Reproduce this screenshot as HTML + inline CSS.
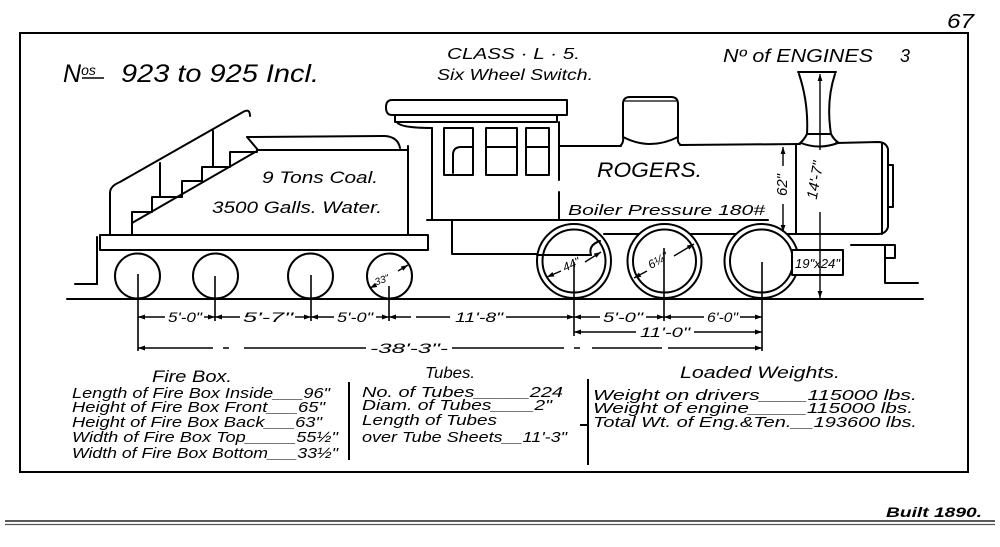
<!DOCTYPE html>
<html>
<head>
<meta charset="utf-8">
<style>
  html,body{margin:0;padding:0;background:#fff;}
  svg{display:block;}
  text{font-family:"Liberation Sans",sans-serif;font-style:italic;fill:#000;}
</style>
</head>
<body>
<svg width="1000" height="547" viewBox="0 0 1000 547" xmlns="http://www.w3.org/2000/svg">
<defs>
  <marker id="ar" viewBox="0 0 10 10" refX="10" refY="5" markerWidth="7" markerHeight="7" markerUnits="userSpaceOnUse" orient="auto-start-reverse">
    <path d="M0,1.5 L10,5 L0,8.5 z" fill="#000"/>
  </marker>
</defs>
<rect width="1000" height="547" fill="#fff"/>

<!-- page number -->
<text x="947" y="28" font-size="20" textLength="27" lengthAdjust="spacingAndGlyphs">67</text>

<!-- frame -->
<rect x="20" y="33" width="948" height="439" fill="none" stroke="#000" stroke-width="2"/>

<!-- headers -->
<text x="63" y="82" font-size="25">N<tspan font-size="14" dy="-7">os</tspan></text>
<line x1="82" y1="78" x2="104" y2="78" stroke="#000" stroke-width="1.5"/>
<text x="121" y="82" font-size="25" textLength="198" lengthAdjust="spacingAndGlyphs">923 to 925 Incl.</text>
<text x="447" y="59" font-size="16" textLength="133" lengthAdjust="spacingAndGlyphs">CLASS · L · 5.</text>
<text x="437" y="80" font-size="16" textLength="156" lengthAdjust="spacingAndGlyphs">Six Wheel Switch.</text>
<text x="723" y="62" font-size="18" textLength="150" lengthAdjust="spacingAndGlyphs">Nº of ENGINES</text>
<text x="900" y="62" font-size="18">3</text>

<g fill="none" stroke="#000" stroke-width="2" stroke-linejoin="round" stroke-linecap="round">
  <!-- rail -->
  <line x1="67" y1="299" x2="923" y2="299"/>

  <!-- ===== TENDER ===== -->
  <!-- handrail -->
  <path d="M110,235 L110,193 Q110,186 120,182 L243,112 Q250,108 250,116"/>
  <line x1="160" y1="163" x2="160" y2="197"/>
  <line x1="213" y1="131" x2="213" y2="167"/>
  <!-- stairs -->
  <path d="M132,235 L132,212 L152,212 L152,197 L182,197 L182,181 L202,181 L202,167 L230,167 L230,152 L257,152"/>
  <line x1="132" y1="223" x2="257" y2="151"/>
  <!-- tank -->
  <path d="M257,150 L408,150 L408,235"/>
  <line x1="408" y1="150" x2="408" y2="146"/>
  <!-- coal top -->
  <path d="M247,137 L385,136 Q398,137 400,148"/>
  <line x1="247" y1="137" x2="258" y2="150"/>
  <!-- deck -->
  <rect x="100" y="235" width="328" height="15" fill="#fff"/>
  <line x1="97" y1="237" x2="97" y2="284"/>
  <line x1="75" y1="284" x2="97" y2="284"/>

  <!-- ===== ENGINE ===== -->
  <!-- cab roof -->
  <path d="M392,100 L567,100 L567,115 L392,115 Q386,115 386,107.5 Q386,100 392,100 Z"/>
  <path d="M395,115 L395,122 L557,122 L557,115"/>
  <path d="M397,122 Q400,128 432,128"/>
  <line x1="432" y1="128" x2="432" y2="220"/>
  <line x1="559" y1="122" x2="559" y2="180"/>
  <line x1="559" y1="192" x2="559" y2="220"/>
  <!-- windows -->
  <rect x="444" y="128" width="29" height="47"/>
  <path d="M453,173 L453,155 Q453,147 461,147 L473,147"/>
  <rect x="486" y="128" width="31" height="47"/>
  <line x1="486" y1="147" x2="517" y2="147"/>
  <rect x="526" y="128" width="23" height="47"/>
  <line x1="526" y1="147" x2="549" y2="147"/>
  <!-- running board -->
  <line x1="427" y1="220" x2="768" y2="220"/>
  <!-- cab frame -->
  <path d="M452,220 L452,254 L540,254"/>
  <!-- boiler -->
  <line x1="559" y1="146" x2="621" y2="146"/>
  <line x1="680" y1="145" x2="800" y2="144"/>
  <path d="M836,143 L878,142 Q886,142 888,149 L888,227 Q886,234 878,234 L604,234"/>
  <line x1="882" y1="143" x2="882" y2="234"/>
  <rect x="888" y="165" width="5" height="42"/>
  <line x1="796" y1="144" x2="796" y2="234"/>
  <!-- dome -->
  <path d="M620,146 Q624,143 623,137 L623,104 Q623,97 630,97 L671,97 Q678,97 678,104 L678,137 Q677,143 681,145"/>
  <path d="M623,137 Q650,151 678,137"/>
  <line x1="625" y1="101" x2="676" y2="101" stroke-width="1.2"/>
  <!-- stack -->
  <line x1="798" y1="72" x2="836" y2="72"/>
  <path d="M799,74 C806,95 808,115 807,134 Q804,140 799,144"/>
  <path d="M835,74 C828,95 828,115 831,134 Q834,140 839,143"/>
  <line x1="807" y1="134" x2="831" y2="134"/>
  <path d="M801,143 Q819,150 838,143"/>
  <!-- pilot -->
  <line x1="851" y1="245" x2="885" y2="245"/>
  <rect x="885" y="245" width="10" height="13"/>
  <path d="M885,258 L885,283 L918,283"/>

  <!-- tender wheels -->
  <circle cx="137.5" cy="276" r="22.5" fill="#fff"/>
  <circle cx="215.5" cy="276" r="22.5" fill="#fff"/>
  <circle cx="310.5" cy="276" r="22.5" fill="#fff"/>
  <circle cx="389.5" cy="276" r="22.5" fill="#fff"/>

  <!-- drivers -->
  <circle cx="574" cy="261" r="37" fill="#fff"/>
  <circle cx="574" cy="261" r="31.5"/>
  <circle cx="664.5" cy="261" r="37" fill="#fff"/>
  <circle cx="664.5" cy="261" r="31.5"/>
  <circle cx="761.5" cy="261" r="37" fill="#fff"/>
  <circle cx="761.5" cy="261" r="31.5"/>
  <!-- driver 1 details -->
  <line x1="537" y1="255" x2="591" y2="255"/>
  <path d="M591,255 Q588,245 600,241"/>
  <!-- cylinder -->
  <rect x="792" y="250" width="51" height="25" fill="#fff"/>
</g>

<!-- extension lines -->
<g stroke="#000" stroke-width="1.6" fill="none">
  <line x1="138" y1="274" x2="138" y2="351"/>
  <line x1="215" y1="276" x2="215" y2="321"/>
  <line x1="311" y1="275" x2="311" y2="321"/>
  <line x1="389" y1="286" x2="389" y2="321"/>
  <line x1="574" y1="262" x2="574" y2="336"/>
  <line x1="664" y1="248" x2="664" y2="321"/>
  <line x1="762" y1="262" x2="762" y2="351"/>
</g>

<!-- dimension lines -->
<g stroke="#000" stroke-width="1.4" fill="none">
  <!-- row 1 -->
  <line x1="138" y1="317" x2="165" y2="317" marker-start="url(#ar)"/>
  <line x1="204" y1="317" x2="215" y2="317" marker-end="url(#ar)"/>
  <line x1="215" y1="317" x2="240" y2="317" marker-start="url(#ar)"/>
  <line x1="295" y1="317" x2="311" y2="317" marker-end="url(#ar)"/>
  <line x1="311" y1="317" x2="334" y2="317" marker-start="url(#ar)"/>
  <line x1="376" y1="317" x2="389" y2="317" marker-end="url(#ar)"/>
  <line x1="389" y1="317" x2="450" y2="317" marker-start="url(#ar)" stroke-dasharray="22,5,40,0"/>
  <line x1="506" y1="317" x2="574" y2="317" marker-end="url(#ar)"/>
  <line x1="574" y1="317" x2="600" y2="317" marker-start="url(#ar)"/>
  <line x1="646" y1="317" x2="664" y2="317" marker-end="url(#ar)"/>
  <line x1="664" y1="317" x2="704" y2="317" marker-start="url(#ar)"/>
  <line x1="740" y1="317" x2="762" y2="317" marker-end="url(#ar)"/>
  <!-- row 2 -->
  <line x1="574" y1="332" x2="636" y2="332" marker-start="url(#ar)"/>
  <line x1="694" y1="332" x2="762" y2="332" marker-end="url(#ar)"/>
  <!-- row 3 -->
  <line x1="138" y1="348" x2="366" y2="348" marker-start="url(#ar)" stroke-dasharray="75,10,6,15,130,0"/>
  <line x1="452" y1="348" x2="762" y2="348" marker-end="url(#ar)" stroke-dasharray="112,10,6,12,70,6,120,0"/>
  <!-- 62" -->
  <line x1="783" y1="166" x2="783" y2="147" marker-end="url(#ar)"/>
  <line x1="783" y1="204" x2="783" y2="232" marker-end="url(#ar)"/>
  <!-- 14'-7" -->
  <line x1="820" y1="150" x2="820" y2="74" marker-end="url(#ar)"/>
  <line x1="820" y1="212" x2="820" y2="298" marker-end="url(#ar)"/>
  <!-- wheel diameters -->
  <line x1="547" y1="277" x2="561" y2="271" marker-start="url(#ar)"/>
  <line x1="585" y1="262" x2="601" y2="252" marker-end="url(#ar)"/>
  <line x1="634" y1="278" x2="647" y2="271" marker-start="url(#ar)"/>
  <line x1="674" y1="256" x2="694" y2="244" marker-end="url(#ar)"/>
  <line x1="370" y1="288" x2="376" y2="285" marker-start="url(#ar)"/>
  <line x1="398" y1="271" x2="408" y2="265" marker-end="url(#ar)"/>
</g>

<!-- labels on drawing -->
<text x="262" y="183" font-size="17" textLength="116" lengthAdjust="spacingAndGlyphs">9 Tons Coal.</text>
<text x="212" y="213" font-size="17" textLength="170" lengthAdjust="spacingAndGlyphs">3500 Galls. Water.</text>
<text x="597" y="177" font-size="21" textLength="105" lengthAdjust="spacingAndGlyphs">ROGERS.</text>
<text x="568" y="215" font-size="15" textLength="197" lengthAdjust="spacingAndGlyphs">Boiler Pressure 180#</text>
<text transform="translate(787,185) rotate(-90)" font-size="15" text-anchor="middle">62"</text>
<text transform="translate(820,181) rotate(-80)" font-size="15" text-anchor="middle">14'-7"</text>
<text x="795" y="268" font-size="13" textLength="45" lengthAdjust="spacingAndGlyphs">19"x24"</text>
<text transform="translate(573,268) rotate(-25)" font-size="12" text-anchor="middle">44"</text>
<text transform="translate(660,264) rotate(-30)" font-size="12" text-anchor="middle">6¼"</text>
<text transform="translate(383,283) rotate(-20)" font-size="10" text-anchor="middle">33"</text>

<!-- dimension texts -->
<g font-size="14">
  <text x="168" y="322" textLength="34" lengthAdjust="spacingAndGlyphs">5'-0"</text>
  <text x="243" y="322" textLength="50" lengthAdjust="spacingAndGlyphs">5'-7"</text>
  <text x="337" y="322" textLength="36" lengthAdjust="spacingAndGlyphs">5'-0"</text>
  <text x="455" y="322" textLength="48" lengthAdjust="spacingAndGlyphs">11'-8"</text>
  <text x="603" y="322" textLength="40" lengthAdjust="spacingAndGlyphs">5'-0"</text>
  <text x="707" y="322" textLength="31" lengthAdjust="spacingAndGlyphs">6'-0"</text>
  <text x="640" y="337" textLength="50" lengthAdjust="spacingAndGlyphs">11'-0"</text>
  <text x="370" y="353" textLength="78" lengthAdjust="spacingAndGlyphs">-38'-3"-</text>
</g>

<!-- table -->
<g stroke="#000" stroke-width="2">
  <line x1="349" y1="382" x2="349" y2="460"/>
  <line x1="588" y1="379" x2="588" y2="465"/>
  <line x1="580" y1="425" x2="588" y2="425"/>
</g>
<text x="152" y="382" font-size="17" textLength="80" lengthAdjust="spacingAndGlyphs">Fire Box.</text>
<g font-size="15">
  <text x="72" y="398" textLength="258" lengthAdjust="spacingAndGlyphs">Length of Fire Box Inside___96"</text>
  <text x="72" y="412" textLength="253" lengthAdjust="spacingAndGlyphs">Height of Fire Box Front___65"</text>
  <text x="72" y="427" textLength="250" lengthAdjust="spacingAndGlyphs">Height of Fire Box Back___63"</text>
  <text x="72" y="442" textLength="266" lengthAdjust="spacingAndGlyphs">Width of Fire Box Top_____55½"</text>
  <text x="72" y="458" textLength="266" lengthAdjust="spacingAndGlyphs">Width of Fire Box Bottom___33½"</text>
</g>
<text x="425" y="378" font-size="16" textLength="50" lengthAdjust="spacingAndGlyphs">Tubes.</text>
<g font-size="15">
  <text x="362" y="397" textLength="201" lengthAdjust="spacingAndGlyphs">No. of Tubes_____224</text>
  <text x="362" y="410" textLength="190" lengthAdjust="spacingAndGlyphs">Diam. of Tubes____2"</text>
  <text x="362" y="425" textLength="135" lengthAdjust="spacingAndGlyphs">Length of Tubes</text>
  <text x="362" y="442" textLength="205" lengthAdjust="spacingAndGlyphs">over Tube Sheets__11'-3"</text>
</g>
<text x="680" y="378" font-size="17" textLength="160" lengthAdjust="spacingAndGlyphs">Loaded Weights.</text>
<g font-size="15">
  <text x="593" y="400" textLength="324" lengthAdjust="spacingAndGlyphs">Weight on drivers____115000 lbs.</text>
  <text x="593" y="413" textLength="320" lengthAdjust="spacingAndGlyphs">Weight of engine_____115000 lbs.</text>
  <text x="593" y="427" textLength="324" lengthAdjust="spacingAndGlyphs">Total Wt. of Eng.&amp;Ten.__193600 lbs.</text>
</g>

<!-- bottom lines -->
<line x1="5" y1="521" x2="995" y2="521" stroke="#222" stroke-width="1.4"/>
<line x1="5" y1="524.5" x2="995" y2="524.5" stroke="#555" stroke-width="1.2"/>
<text x="886" y="517" font-size="14" font-weight="bold" textLength="96" lengthAdjust="spacingAndGlyphs">Built 1890.</text>
</svg>
</body>
</html>
